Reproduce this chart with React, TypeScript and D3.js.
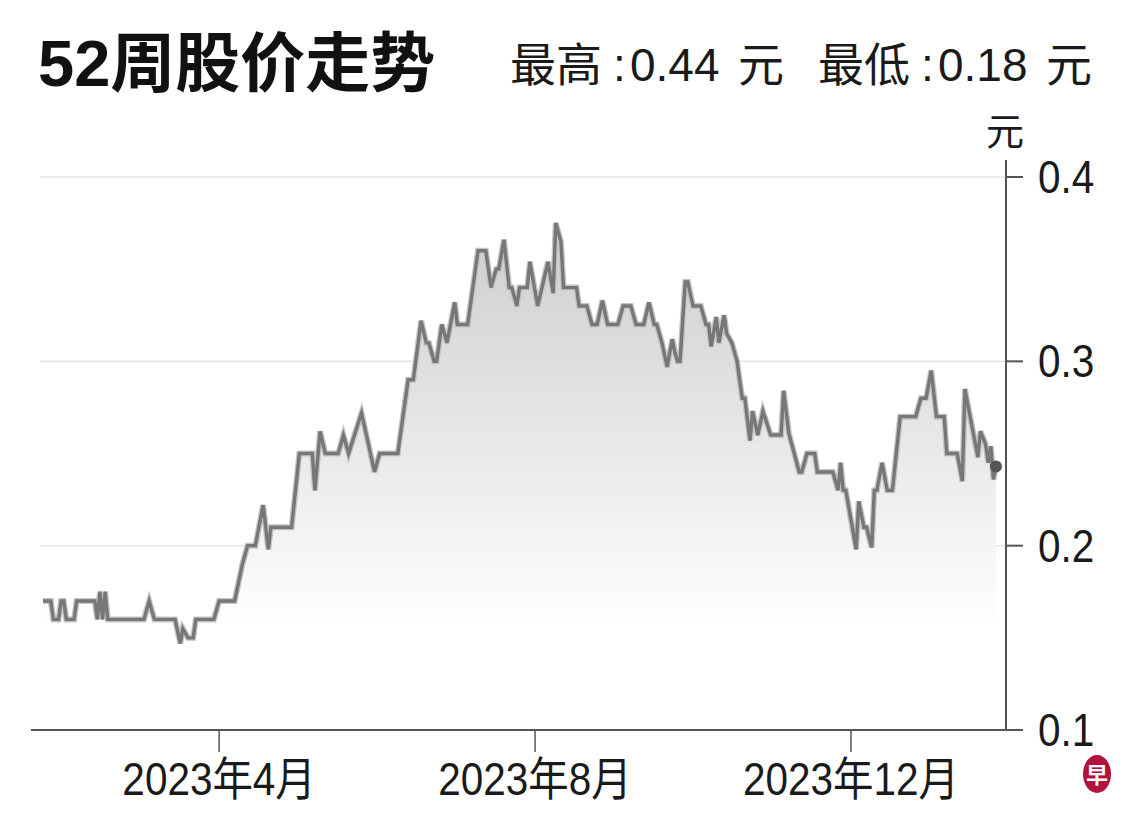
import React from "react";
import * as d3 from "d3";

// ---- data ----
const dates: string[] = [
  "2023-01-23","2023-01-26","2023-01-27","2023-01-29","2023-01-30","2023-01-31",
  "2023-02-01","2023-02-04","2023-02-05","2023-02-12","2023-02-13","2023-02-14","2023-02-15","2023-02-16","2023-02-17",
  "2023-03-03","2023-03-05","2023-03-07","2023-03-15","2023-03-17","2023-03-18","2023-03-20","2023-03-22","2023-03-23","2023-03-30",
  "2023-04-01","2023-04-07","2023-04-10","2023-04-12","2023-04-15","2023-04-18","2023-04-20","2023-04-21","2023-04-29",
  "2023-05-02","2023-05-07","2023-05-08","2023-05-10","2023-05-12","2023-05-17","2023-05-19","2023-05-21","2023-05-26","2023-05-31",
  "2023-06-02","2023-06-09","2023-06-12","2023-06-13","2023-06-15","2023-06-18","2023-06-20","2023-06-21","2023-06-23","2023-06-24","2023-06-26","2023-06-28",
  "2023-07-01","2023-07-02","2023-07-06","2023-07-08","2023-07-10","2023-07-13","2023-07-15","2023-07-17","2023-07-18","2023-07-20","2023-07-22","2023-07-23","2023-07-25","2023-07-26","2023-07-29","2023-07-30",
  "2023-08-02","2023-08-06","2023-08-08","2023-08-09","2023-08-11","2023-08-12","2023-08-17","2023-08-18","2023-08-21","2023-08-23","2023-08-25","2023-08-27","2023-08-29",
  "2023-09-02","2023-09-04","2023-09-07","2023-09-09","2023-09-12","2023-09-14","2023-09-16","2023-09-17","2023-09-19","2023-09-21","2023-09-23","2023-09-24","2023-09-25","2023-09-26","2023-09-28","2023-09-29",
  "2023-10-01","2023-10-04","2023-10-06","2023-10-07","2023-10-08","2023-10-10","2023-10-11","2023-10-13","2023-10-14","2023-10-16","2023-10-18","2023-10-20","2023-10-21","2023-10-23","2023-10-24","2023-10-26","2023-10-28","2023-10-31",
  "2023-11-04","2023-11-05","2023-11-07","2023-11-11","2023-11-12","2023-11-14","2023-11-17","2023-11-18","2023-11-24","2023-11-26","2023-11-27","2023-11-28","2023-11-29",
  "2023-12-03","2023-12-04","2023-12-06","2023-12-07","2023-12-09","2023-12-10","2023-12-11","2023-12-13","2023-12-15","2023-12-17","2023-12-20","2023-12-26","2023-12-28","2023-12-30",
  "2024-01-01","2024-01-03","2024-01-06","2024-01-07","2024-01-11","2024-01-13","2024-01-14","2024-01-16","2024-01-19","2024-01-20","2024-01-22","2024-01-23","2024-01-24","2024-01-25","2024-01-26",
];

const prices: number[] = [
  0.17,0.17,0.16,0.16,0.17,0.17,
  0.16,0.16,0.17,0.17,0.16,0.175,0.16,0.175,0.16,
  0.16,0.17,0.16,0.16,0.147,0.155,0.15,0.15,0.16,0.16,
  0.17,0.17,0.19,0.2,0.2,0.222,0.198,0.21,0.21,
  0.25,0.25,0.23,0.262,0.25,0.25,0.26,0.25,0.272,0.24,
  0.25,0.25,0.28,0.29,0.29,0.322,0.31,0.31,0.3,0.3,0.32,0.31,
  0.332,0.32,0.32,0.34,0.36,0.36,0.34,0.35,0.35,0.366,0.34,0.34,0.33,0.34,0.34,0.354,
  0.33,0.354,0.337,0.375,0.365,0.34,0.34,0.33,0.33,0.32,0.32,0.333,0.32,
  0.32,0.33,0.33,0.32,0.32,0.332,0.32,0.32,0.31,0.297,0.312,0.305,0.3,0.3,0.343,0.343,
  0.33,0.33,0.32,0.32,0.308,0.324,0.31,0.325,0.315,0.31,0.3,0.28,0.28,0.257,0.273,0.26,0.273,0.26,
  0.26,0.284,0.261,0.24,0.24,0.25,0.25,0.24,0.24,0.23,0.245,0.23,0.23,
  0.198,0.224,0.21,0.21,0.199,0.23,0.23,0.245,0.23,0.23,0.27,0.27,0.28,0.28,
  0.295,0.27,0.27,0.25,0.25,0.235,0.285,0.27,0.248,0.262,0.255,0.245,0.254,0.236,0.243,
];

const xTickDates: string[] = ["2023-04-01", "2023-08-01", "2023-12-01"];
const xTickLabels: string[] = ["2023年4月", "2023年8月", "2023年12月"];
const yTicks: number[] = [0.1, 0.2, 0.3, 0.4];
const gridTicks: number[] = [0.2, 0.3, 0.4];

const titleText = "52周股价走势";
const highLabel = "最高";
const highValue = "0.44";
const lowLabel = "最低";
const lowValue = "0.18";
const unitText = "元";

const FONT = "'Liberation Sans', Arial, 'Noto Sans CJK SC', sans-serif";
const SX = 0.88; // condensed look of the reference type

export default function App() {
  const parse = d3.timeParse("%Y-%m-%d");
  const data = dates.map((d, i) => ({ date: parse(d) as Date, value: prices[i] }));

  const x = d3
    .scaleTime()
    .domain(d3.extent(data, (d) => d.date) as [Date, Date])
    .range([43, 996]);
  const y = d3.scaleLinear().domain([0.1, 0.4]).range([730, 177]);

  const line = d3
    .line<{ date: Date; value: number }>()
    .x((d) => x(d.date))
    .y((d) => y(d.value));
  const area = d3
    .area<{ date: Date; value: number }>()
    .x((d) => x(d.date))
    .y0(y(0.1))
    .y1((d) => y(d.value));

  const last = data[data.length - 1];
  const axisX = 1006;

  const stat = (label: string, value: string, x0: number) => (
    <text y={81} fontSize={46} fill="#1a1a1a">
      <tspan x={x0}>{label}</tspan>
      <tspan x={x0 + 103}>:</tspan>
      <tspan x={x0 + 120}>{value}</tspan>
      <tspan x={x0 + 228}>{unitText}</tspan>
    </text>
  );

  return (
    <svg
      width={1140}
      height={822}
      style={{ position: "absolute", left: 0, top: 0, background: "#fff" }}
      fontFamily={FONT}
    >
      <defs>
        <linearGradient id="fillGrad" gradientUnits="userSpaceOnUse" x1="0" y1="220" x2="0" y2="630">
          <stop offset="0" stopColor="#cdcdcd" />
          <stop offset="1" stopColor="#ffffff" />
        </linearGradient>
      </defs>
      <rect width={1140} height={822} fill="#fff" />

      {/* title */}
      <text x={38} y={86} fontSize={65} fontWeight="bold" fill="#111">
        {titleText}
      </text>
      {stat(highLabel, highValue, 510)}
      {stat(lowLabel, lowValue, 818)}

      {/* grid */}
      {gridTicks.map((t) => (
        <line key={t} x1={40} x2={axisX} y1={y(t)} y2={y(t)} stroke="#e6e6e6" strokeWidth={1.5} />
      ))}

      {/* area and line */}
      <path d={area(data) || ""} fill="url(#fillGrad)" stroke="none" />
      <path d={line(data) || ""} fill="none" stroke="#c4c4c4" strokeWidth={6} strokeLinejoin="miter" />
      <path d={line(data) || ""} fill="none" stroke="#777" strokeWidth={3.4} strokeLinejoin="miter" />
      <circle cx={x(last.date)} cy={y(last.value)} r={6} fill="#555" />

      {/* x axis */}
      <line x1={31} x2={axisX} y1={y(0.1)} y2={y(0.1)} stroke="#555" strokeWidth={2} />
      {xTickDates.map((d, i) => {
        const px = x(parse(d) as Date);
        return (
          <g key={d}>
            <line x1={px} x2={px} y1={y(0.1)} y2={y(0.1) + 22} stroke="#555" strokeWidth={1.5} />
            <text
              transform={`translate(${px},779) scale(${SX},1)`}
              fontSize={46}
              textAnchor="middle"
              dominantBaseline="central"
              fill="#1a1a1a"
            >
              {xTickLabels[i]}
            </text>
          </g>
        );
      })}

      {/* y axis */}
      <line x1={axisX} x2={axisX} y1={160} y2={y(0.1)} stroke="#555" strokeWidth={2} />
      {yTicks.map((t) => (
        <g key={t}>
          <line x1={axisX} x2={axisX + 17} y1={y(t)} y2={y(t)} stroke="#555" strokeWidth={2} />
          <text
            transform={`translate(1038,${y(t)}) scale(${SX},1)`}
            fontSize={46}
            dominantBaseline="central"
            fill="#1a1a1a"
          >
            {d3.format(".1f")(t)}
          </text>
        </g>
      ))}
      <text x={986} y={145} fontSize={38} fill="#1a1a1a">
        {unitText}
      </text>

      {/* logo */}
      <ellipse cx={1097} cy={774} rx={14} ry={19} fill="#b3123c" />
      <text x={1097} y={775} fontSize={22} fontWeight="bold" textAnchor="middle" dominantBaseline="central" fill="#fff">
        早
      </text>
    </svg>
  );
}
